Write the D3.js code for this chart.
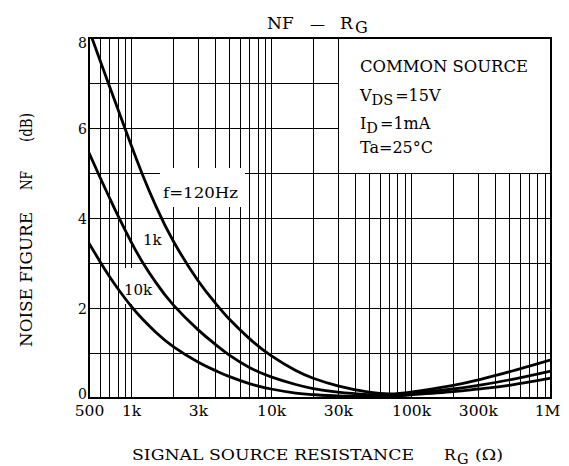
<!DOCTYPE html>
<html>
<head>
<meta charset="utf-8">
<script src="https://cdn.jsdelivr.net/npm/d3@7"></script>
<style>
  html, body { margin: 0; padding: 0; background: #fff; }
  svg { display: block; }
  text { font-family: "DejaVu Serif", "Liberation Serif", serif; fill: #000; white-space: pre; }
</style>
</head>
<body>
<svg id="chart" width="569" height="466"></svg>
<script>
// values (RG in ohm, NF in dB)
const rg = [500, 600, 700, 800, 1000, 1200, 1500, 2000, 3000, 4000, 5000, 7000,
  10000, 15000, 20000, 30000, 50000, 70000, 100000, 200000, 300000, 500000, 1000000];
const nf120 = [8.18, 7.5, 6.93, 6.44, 5.62, 4.98, 4.27, 3.49, 2.61, 2.11, 1.76, 1.32,
  0.94, 0.61, 0.44, 0.27, 0.13, 0.09, 0.13, 0.28, 0.4, 0.58, 0.85];
const nf1k = [5.45, 4.9, 4.45, 4.07, 3.47, 3.03, 2.57, 2.07, 1.52, 1.19, 0.96, 0.68,
  0.47, 0.3, 0.21, 0.13, 0.075, 0.06, 0.1, 0.2, 0.28, 0.4, 0.6];
const nf10k = [3.44, 3.03, 2.7, 2.44, 2.04, 1.76, 1.46, 1.14, 0.8, 0.61, 0.48, 0.32,
  0.2, 0.11, 0.075, 0.045, 0.035, 0.04, 0.07, 0.14, 0.2, 0.28, 0.44];

const xTickValues = [500, 1000, 3000, 10000, 30000, 100000, 300000, 1000000];
const xTickLabels = ["500", "1k", "3k", "10k", "30k", "100k", "300k", "1M"];
const yTickValues = [0, 2, 4, 6, 8];

const pLeft = 89, pRight = 551, pTop = 38, pBottom = 398;

const svg = d3.select("#chart");

const x = d3.scaleLog().domain([500, 1e6]).range([pLeft, pRight]);
const y = d3.scaleLinear().domain([0, 8]).range([pBottom, pTop]);

// grid lines, 1..9 per decade
let gridX = [];
[100, 1000, 10000, 100000].forEach(function(dec) {
  for (let k = 1; k <= 9; k++) {
    let v = dec * k;
    if (v > 500 && v < 1e6) gridX.push(v);
  }
});
const gridY = d3.range(1, 8);

const grid = svg.append("g").attr("shape-rendering", "crispEdges");
grid.selectAll(".gx")
  .data(gridX)
  .enter().append("line")
  .attr("x1", d => Math.round(x(d)) + 0.5)
  .attr("x2", d => Math.round(x(d)) + 0.5)
  .attr("y1", pTop).attr("y2", pBottom)
  .attr("stroke", "#000").attr("stroke-width", 1);
grid.selectAll(".gy")
  .data(gridY)
  .enter().append("line")
  .attr("x1", pLeft).attr("x2", pRight)
  .attr("y1", d => Math.round(y(d)) + 0.5)
  .attr("y2", d => Math.round(y(d)) + 0.5)
  .attr("stroke", "#000").attr("stroke-width", 1);

// white boxes behind labels
svg.append("rect")
  .attr("x", 160).attr("y", 168).attr("width", 85).attr("height", 39)
  .attr("fill", "#fff");
svg.append("rect")
  .attr("x", 119).attr("y", 268).attr("width", 38).attr("height", 36)
  .attr("fill", "#fff");

// condition box (upper right)
svg.append("rect")
  .attr("x", Math.round(x(30000)) + 0.5).attr("y", pTop)
  .attr("width", pRight - Math.round(x(30000)) - 0.5)
  .attr("height", Math.round(y(5)) + 0.5 - pTop)
  .attr("fill", "#fff").attr("stroke", "#000").attr("stroke-width", 1)
  .attr("shape-rendering", "crispEdges");

// curves
svg.append("clipPath").attr("id", "clip")
  .append("rect").attr("x", pLeft).attr("y", pTop)
  .attr("width", pRight - pLeft).attr("height", pBottom - pTop);

const line = d3.line()
  .x(d => x(d[0]))
  .y(d => y(d[1]))
  .curve(d3.curveNatural);

[nf120, nf1k, nf10k].forEach(function(s) {
  svg.append("path")
    .datum(d3.zip(rg, s))
    .attr("clip-path", "url(#clip)")
    .attr("fill", "none")
    .attr("stroke", "#000")
    .attr("stroke-width", 2.8)
    .attr("d", line);
});

// frame
svg.append("rect")
  .attr("x", pLeft).attr("y", pTop)
  .attr("width", pRight - pLeft).attr("height", pBottom - pTop)
  .attr("fill", "none").attr("stroke", "#000").attr("stroke-width", 2);

// axes
const xAxis = svg.append("g")
  .attr("transform", "translate(0," + pBottom + ")")
  .call(d3.axisBottom(x).tickValues(xTickValues)
    .tickFormat((d, i) => xTickLabels[i]).tickSize(0).tickPadding(7));
xAxis.select(".domain").remove();
xAxis.selectAll("text")
  .attr("font-family", "DejaVu Serif").attr("font-size", 15.5)
  .attr("dy", "0.72em");
xAxis.selectAll(".tick").filter(d => d == 1e6)
  .select("text").attr("dx", -4);

const yAxis = svg.append("g")
  .attr("transform", "translate(" + pLeft + ",0)")
  .call(d3.axisLeft(y).tickValues(yTickValues).tickSize(0).tickPadding(2));
yAxis.select(".domain").remove();
yAxis.selectAll("text")
  .attr("font-family", "DejaVu Serif").attr("font-size", 14)
  .attr("dy", d => d == 8 ? "0.7em" : (d == 0 ? "0.05em" : "0.36em"));

// curve labels
svg.append("text").attr("x", 163).attr("y", 198).attr("font-size", 15)
  .attr("textLength", 75).attr("lengthAdjust", "spacingAndGlyphs")
  .text("f=120Hz");
svg.append("text").attr("x", 143).attr("y", 245).attr("font-size", 15)
  .text("1k");
svg.append("text").attr("x", 124).attr("y", 295).attr("font-size", 15)
  .text("10k");

// conditions
const cond = svg.append("g").attr("font-size", 16);
cond.append("text").attr("x", 360).attr("y", 72)
  .attr("textLength", 168).attr("lengthAdjust", "spacingAndGlyphs")
  .text("COMMON SOURCE");
let t = cond.append("text").attr("x", 360).attr("y", 101);
t.append("tspan").text("V");
t.append("tspan").attr("dy", 4).attr("font-size", 14.5).text("DS");
t.append("tspan").attr("dy", -4).attr("dx", 2).text("=15V");
t = cond.append("text").attr("x", 360).attr("y", 129);
t.append("tspan").text("I");
t.append("tspan").attr("dy", 4).attr("font-size", 14.5).text("D");
t.append("tspan").attr("dy", -4).attr("dx", 2).text("=1mA");
cond.append("text").attr("x", 360).attr("y", 153).text("Ta=25°C");

// title
const title = svg.append("g").attr("font-size", 17);
title.append("text").attr("x", 267).attr("y", 29).text("NF");
title.append("text").attr("x", 310).attr("y", 29).attr("font-size", 15).text("—");
title.append("text").attr("x", 340).attr("y", 29).text("R");
title.append("text").attr("x", 355).attr("y", 33).attr("font-size", 16).text("G");

// axis titles
const xt = svg.append("g").attr("font-size", 15.5);
xt.append("text").attr("x", 132).attr("y", 460)
  .attr("textLength", 282).attr("lengthAdjust", "spacingAndGlyphs")
  .text("SIGNAL SOURCE RESISTANCE");
xt.append("text").attr("x", 444).attr("y", 460).text("R");
xt.append("text").attr("x", 457).attr("y", 464).attr("font-size", 14.5).text("G");
xt.append("text").attr("x", 475).attr("y", 460)
  .attr("textLength", 28).attr("lengthAdjust", "spacingAndGlyphs")
  .text("(Ω)");

const yt = svg.append("g").attr("font-size", 16);
yt.append("text").attr("transform", "translate(32,347) rotate(-90)")
  .attr("textLength", 135).attr("lengthAdjust", "spacingAndGlyphs")
  .text("NOISE FIGURE");
yt.append("text").attr("transform", "translate(32,190) rotate(-90)")
  .attr("textLength", 19).attr("lengthAdjust", "spacingAndGlyphs")
  .text("NF");
yt.append("text").attr("transform", "translate(32,142) rotate(-90)")
  .attr("textLength", 29).attr("lengthAdjust", "spacingAndGlyphs")
  .text("(dB)");
</script>
</body>
</html>
